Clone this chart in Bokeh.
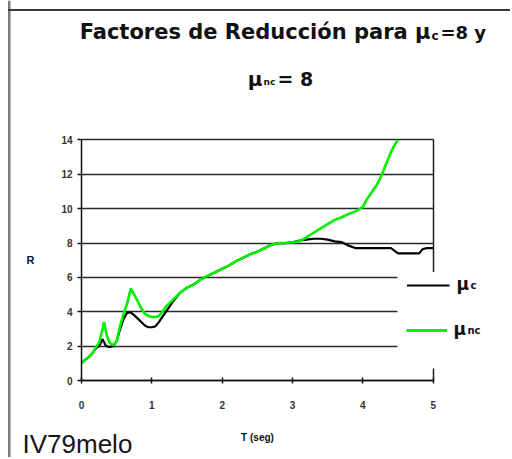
from bokeh.plotting import figure
from bokeh.models import Label, BoxAnnotation, FixedTicker, Range1d, LinearAxis
from bokeh.embed import file_html
from bokeh.resources import INLINE

# ---- data ----
t_nc = [0.0, 0.05, 0.1, 0.15, 0.2, 0.25, 0.3, 0.32, 0.36, 0.4, 0.45, 0.5, 0.55, 0.6, 0.65,
        0.7, 0.75, 0.8, 0.85, 0.9, 0.95, 1.0, 1.05, 1.1, 1.15, 1.2, 1.25, 1.3, 1.4, 1.5,
        1.6, 1.7, 1.8, 1.9, 2.0, 2.1, 2.2, 2.3, 2.4, 2.5, 2.6, 2.7, 2.8, 2.9, 3.0, 3.1,
        3.2, 3.3, 3.4, 3.5, 3.6, 3.7, 3.8, 3.9, 4.0, 4.05, 4.1, 4.15, 4.2, 4.25, 4.3,
        4.35, 4.4, 4.45, 4.5]
r_nc = [1.0, 1.2, 1.35, 1.55, 1.9, 2.2, 3.0, 3.4, 2.6, 2.2, 2.05, 2.3, 3.2, 3.9, 4.5,
        5.35, 5.0, 4.6, 4.2, 3.9, 3.75, 3.7, 3.7, 3.75, 4.0, 4.3, 4.5, 4.7, 5.1, 5.4,
        5.6, 5.9, 6.1, 6.3, 6.5, 6.7, 6.95, 7.15, 7.35, 7.5, 7.7, 7.9, 8.0, 8.0, 8.05, 8.1,
        8.35, 8.6, 8.85, 9.1, 9.35, 9.5, 9.7, 9.85, 10.1, 10.5, 10.8, 11.1, 11.4, 11.8, 12.3,
        12.8, 13.3, 13.7, 14.0]

t_c = [0.0, 0.05, 0.1, 0.15, 0.2, 0.25, 0.3, 0.35, 0.4, 0.45, 0.5, 0.55, 0.6, 0.65, 0.7,
       0.75, 0.8, 0.85, 0.9, 0.95, 1.0, 1.05, 1.1, 1.15, 1.2, 1.25, 1.3, 1.4, 1.5, 1.6,
       1.7, 1.8, 1.9, 2.0, 2.1, 2.2, 2.3, 2.4, 2.5, 2.6, 2.7, 2.8, 2.9, 3.0, 3.1, 3.2,
       3.3, 3.4, 3.5, 3.6, 3.7, 3.8, 3.9, 4.0, 4.1, 4.2, 4.3, 4.4, 4.5, 4.6, 4.7, 4.8,
       4.85, 4.9, 5.0]
r_c = [1.0, 1.2, 1.35, 1.55, 1.85, 2.0, 2.4, 2.0, 1.95, 2.0, 2.3, 3.0, 3.6, 3.95, 3.95,
       3.8, 3.6, 3.4, 3.2, 3.1, 3.1, 3.15, 3.4, 3.7, 4.0, 4.3, 4.6, 5.1, 5.4, 5.6,
       5.9, 6.1, 6.3, 6.5, 6.7, 6.95, 7.15, 7.35, 7.5, 7.7, 7.9, 8.0, 8.0, 8.05, 8.15, 8.2,
       8.25, 8.25, 8.2, 8.1, 8.05, 7.85, 7.7, 7.7, 7.7, 7.7, 7.7, 7.7, 7.4, 7.4, 7.4, 7.4,
       7.65, 7.7, 7.7]

x_ticks = [0, 1, 2, 3, 4, 5]
y_ticks = [0, 2, 4, 6, 8, 10, 12, 14]

title_main = "Factores de Reducción para μ"
title_sub1 = "c"
title_end1 = "=8 y"
title2_mu = "μ"
title2_sub = "nc"
title2_end = "= 8"
x_label = "T (seg)"
y_label = "R"
legend_c_sub = "c"
legend_nc_sub = "nc"
footer = "IV79melo"

GREEN = "#00f000"

W, H = 510, 457
# frame covers the whole canvas; axes are drawn at fixed locations inside it
PX_X = 70.34   # pixels per second
PX_Y = 17.18   # pixels per unit of R
X0, Y0 = 81, 380  # canvas position of the data origin
p = figure(width=W, height=H, output_backend="svg", toolbar_location=None,
           x_range=Range1d(-X0 / PX_X, (W - X0) / PX_X),
           y_range=Range1d(-(H - Y0) / PX_Y, Y0 / PX_Y),
           min_border_left=0, min_border_right=0, min_border_top=0, min_border_bottom=0)
p.background_fill_color = "white"
p.border_fill_color = "white"
p.outline_line_color = None

# axes
p.xaxis.ticker = FixedTicker(ticks=x_ticks)
p.yaxis.ticker = FixedTicker(ticks=y_ticks)
p.xaxis.fixed_location = 0
p.yaxis.fixed_location = 0
p.xaxis.bounds = (x_ticks[0], x_ticks[-1])
p.yaxis.bounds = (y_ticks[0], y_ticks[-1])
p.xaxis.minor_tick_line_color = None
p.yaxis.minor_tick_line_color = None
for ax in (p.xaxis[0], p.yaxis[0]):
    ax.axis_line_color = "#111111"
    ax.axis_line_width = 1.5
    ax.major_tick_line_color = "#111111"
    ax.major_tick_line_width = 1.5
    ax.major_label_text_font = "Liberation Sans"
    ax.major_label_text_font_style = "bold"
    ax.major_label_text_font_size = "10px"
    ax.major_label_text_color = "#333333"
    ax.axis_label_text_font = "Liberation Sans"
    ax.axis_label_text_font_style = "bold"
    ax.axis_label_text_font_size = "10px"
    ax.axis_label_text_color = "#111111"
p.xaxis.major_tick_in = 3
p.xaxis.major_tick_out = 3
p.xaxis.major_label_standoff = 17
p.xaxis.axis_label = x_label
p.xaxis.axis_label_standoff = 20
p.yaxis.major_tick_in = 0
p.yaxis.major_tick_out = 4
p.yaxis.major_label_standoff = 5
p.yaxis.axis_label = y_label
p.yaxis.axis_label_orientation = "horizontal"
p.yaxis.axis_label_standoff = 24
p.yaxis.axis_label_text_font_size = "11px"

# right edge of the plotting area
right_edge = LinearAxis(fixed_location=x_ticks[-1], bounds=(y_ticks[0], y_ticks[-1]),
                        ticker=FixedTicker(ticks=[]), axis_line_color="#222222",
                        axis_line_width=1.5, minor_tick_line_color=None)
p.add_layout(right_edge, "right")

p.xgrid.grid_line_color = None
ygrid = p.ygrid[0]
ygrid.grid_line_color = "#2a2a2a"
ygrid.grid_line_width = 1.6
ygrid.bounds = (y_ticks[0], y_ticks[-1])
if "cross_bounds" in ygrid.properties():
    ygrid.cross_bounds = (x_ticks[0], x_ticks[-1])
else:
    ygrid.grid_line_color = None
    p.segment(x0=[x_ticks[0]] * len(y_ticks), x1=[x_ticks[-1]] * len(y_ticks),
              y0=y_ticks, y1=y_ticks, line_color="#2a2a2a", line_width=1.6)

# series
p.line(t_c, r_c, line_color="black", line_width=2.2)
p.line(t_nc, r_nc, line_color=GREEN, line_width=2.6)


def box(l, r, b, t, color):
    p.add_layout(BoxAnnotation(left=l, right=r, bottom=H - b, top=H - t,
                               left_units="screen", right_units="screen",
                               bottom_units="screen", top_units="screen",
                               fill_color=color, fill_alpha=1.0, line_color=None))


TEXT_SHIFT = 8  # labels render a little below the requested baseline


def lab(x, y, text, size, align="left", style="bold", font="DejaVu Sans", color="#111111"):
    p.add_layout(Label(x=x, y=H - (y - TEXT_SHIFT), x_units="screen", y_units="screen",
                       text=text, text_font=font, text_font_size=size,
                       text_font_style=style, text_align=align,
                       text_baseline="alphabetic", text_color=color))


# outer chart border (left and top)
box(7.5, 10, H, 0, "#7a7a7a")
box(7.5, W, 10.5, 8.5, "#3a3a3a")

# legend panel (white box overlapping the plotting area)
box(397, 505, 368, 271.5, "white")
box(406.5, 449, 286, 284, "black")
box(406, 446.5, 331.5, 328.5, GREEN)
lab(456, 291, "μ", "17px")
lab(470, 293, legend_c_sub, "10px")
lab(453, 336, "μ", "17px")
lab(467, 338, legend_nc_sub, "10px")

# title (two lines, with subscripts)
lab(430, 39.5, title_main, "21px", align="right")
lab(431, 43, title_sub1, "12px")
lab(440, 39.5, title_end1, "18px")
lab(262, 86.5, title2_mu, "20px", align="right")
lab(263, 89, title2_sub, "9px")
lab(277, 86.5, title2_end, "19px")

# footer
lab(22, 451, footer, "26px", style="normal", font="Liberation Sans", color="#151515")

open("out.html", "w").write(file_html(p, INLINE))
